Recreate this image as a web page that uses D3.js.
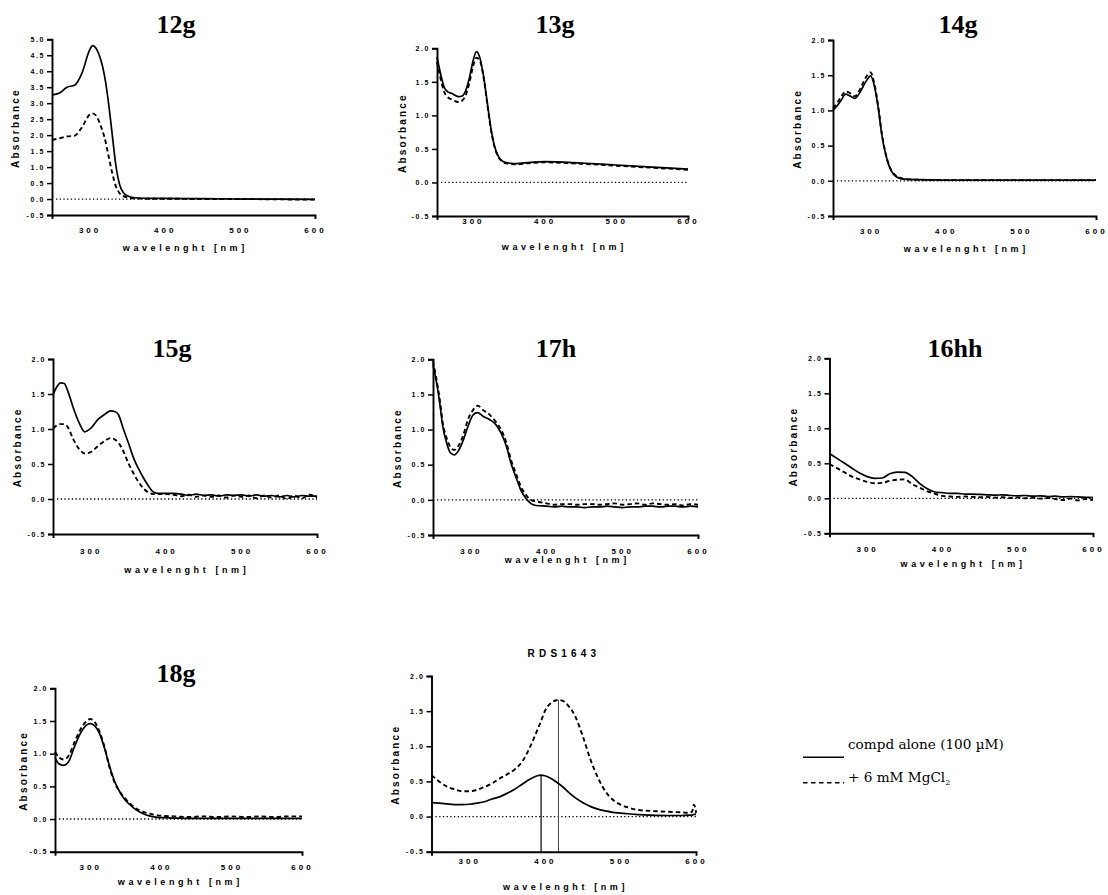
<!DOCTYPE html>
<html>
<head>
<meta charset="utf-8">
<script src="https://cdn.jsdelivr.net/npm/d3@7"></script>
<style>
  body { margin: 0; background: #fff; }
  svg { display: block; }
</style>
</head>
<body>
<div id="container"></div>
<script>
/* DATA */
const xTicks = [300, 400, 500, 600];
const yTicksSmall = [-0.5, 0, 0.5, 1.0, 1.5, 2.0];
const yTicksBig = [-0.5, 0, 0.5, 1.0, 1.5, 2.0, 2.5, 3.0, 3.5, 4.0, 4.5, 5.0];
const seriesNames = ["compd alone (100 \u00B5M)", "+ 6 mM MgCl"];

const wl12g = [250, 260, 270, 280, 290, 300, 304, 310, 315, 320, 325, 330, 335, 340, 345, 350, 360, 380, 400, 450, 500, 550, 600];
const alone12g = [3.26, 3.32, 3.50, 3.56, 3.95, 4.66, 4.80, 4.66, 4.35, 3.85, 3.05, 2.05, 1.05, 0.45, 0.20, 0.10, 0.04, 0.02, 0.02, 0.01, 0.00, 0.00, -0.01];
const mg12g = [1.85, 1.90, 1.96, 1.98, 2.25, 2.64, 2.68, 2.56, 2.28, 1.92, 1.38, 0.83, 0.40, 0.18, 0.09, 0.05, 0.02, 0.01, 0.01, 0.00, 0.00, -0.01, -0.02];

const wl13g = [250, 255, 260, 265, 270, 280, 285, 290, 295, 300, 305, 310, 315, 320, 325, 330, 335, 340, 345, 350, 360, 380, 400, 450, 500, 550, 600];
const alone13g = [1.87, 1.62, 1.42, 1.35, 1.33, 1.28, 1.29, 1.37, 1.55, 1.80, 1.95, 1.85, 1.58, 1.20, 0.82, 0.55, 0.40, 0.33, 0.30, 0.29, 0.28, 0.30, 0.31, 0.29, 0.26, 0.23, 0.20];
const mg13g = [1.80, 1.55, 1.35, 1.27, 1.24, 1.20, 1.22, 1.30, 1.48, 1.72, 1.86, 1.81, 1.56, 1.18, 0.80, 0.54, 0.39, 0.32, 0.29, 0.28, 0.27, 0.29, 0.30, 0.28, 0.25, 0.22, 0.19];

const wl14g = [250, 255, 260, 267, 272, 279, 285, 290, 295, 300, 305, 310, 315, 320, 325, 330, 340, 350, 400, 500, 600];
const alone14g = [1.00, 1.06, 1.13, 1.23, 1.21, 1.17, 1.24, 1.34, 1.43, 1.49, 1.35, 1.05, 0.65, 0.38, 0.20, 0.10, 0.03, 0.02, 0.01, 0.01, 0.01];
const mg14g = [1.03, 1.10, 1.18, 1.27, 1.25, 1.20, 1.28, 1.39, 1.49, 1.54, 1.38, 1.07, 0.67, 0.39, 0.21, 0.11, 0.04, 0.02, 0.01, 0.01, 0.01];

const wl15g = [250, 255, 260, 265, 270, 277, 285, 292, 300, 310, 320, 326, 332, 337, 343, 350, 357, 363, 370, 377, 383, 390,
  400, 410, 420, 430, 440, 450, 460, 470, 480, 490, 500, 510, 520, 530, 540, 550, 560, 570, 580, 590, 600];
const alone15g = [1.49, 1.60, 1.66, 1.65, 1.53, 1.30, 1.08, 0.96, 1.01, 1.14, 1.22, 1.26, 1.25, 1.20, 1.01, 0.80, 0.58, 0.44, 0.30, 0.18, 0.10, 0.08,
  0.08, 0.08, 0.07, 0.05, 0.07, 0.05, 0.06, 0.04, 0.06, 0.05, 0.06, 0.04, 0.06, 0.04, 0.05, 0.03, 0.05, 0.03, 0.05, 0.04, 0.04];
const mg15g = [1.01, 1.05, 1.07, 1.07, 1.02, 0.85, 0.71, 0.65, 0.67, 0.76, 0.84, 0.87, 0.85, 0.80, 0.69, 0.51, 0.36, 0.25, 0.15, 0.09, 0.07, 0.07,
  0.07, 0.06, 0.04, 0.06, 0.03, 0.05, 0.03, 0.05, 0.02, 0.05, 0.03, 0.05, 0.01, 0.05, 0.02, 0.05, 0.00, 0.05, 0.01, 0.06, 0.02];

const wl17h = [250, 254, 259, 263, 268, 273, 278, 283, 290, 296, 303, 309, 316, 325, 333, 340, 347, 353, 360, 366, 373, 379, 386,
  400, 410, 420, 430, 440, 450, 460, 470, 480, 490, 500, 510, 520, 530, 540, 550, 560, 570, 580, 590, 600];
const alone17h = [1.92, 1.71, 1.37, 1.04, 0.81, 0.67, 0.64, 0.69, 0.85, 1.04, 1.21, 1.24, 1.19, 1.14, 1.07, 0.95, 0.76, 0.52, 0.31, 0.14, 0.02, -0.05, -0.08,
  -0.09, -0.10, -0.09, -0.10, -0.10, -0.11, -0.10, -0.10, -0.09, -0.10, -0.11, -0.10, -0.10, -0.09, -0.09, -0.10, -0.09, -0.09, -0.10, -0.09, -0.10];
const mg17h = [1.97, 1.75, 1.42, 1.09, 0.88, 0.75, 0.71, 0.76, 0.92, 1.14, 1.28, 1.34, 1.28, 1.21, 1.11, 1.00, 0.81, 0.57, 0.36, 0.19, 0.07, 0.00, -0.02,
  -0.05, -0.07, -0.06, -0.06, -0.07, -0.06, -0.06, -0.07, -0.06, -0.05, -0.07, -0.06, -0.05, -0.07, -0.05, -0.06, -0.07, -0.06, -0.08, -0.06, -0.07];

const wl16hh = [250, 260, 270, 280, 290, 300, 310, 320, 330, 340, 350, 360, 370, 380, 390, 400, 410, 420,
  430, 440, 450, 460, 470, 480, 490, 500, 510, 520, 530, 540, 550, 560, 570, 580, 590, 600];
const alone16hh = [0.64, 0.57, 0.50, 0.43, 0.36, 0.31, 0.285, 0.29, 0.35, 0.375, 0.37, 0.31, 0.21, 0.135, 0.09, 0.08, 0.07, 0.07,
  0.06, 0.06, 0.055, 0.05, 0.045, 0.05, 0.04, 0.035, 0.04, 0.03, 0.035, 0.025, 0.03, 0.02, 0.025, 0.02, 0.015, 0.01];
const mg16hh = [0.49, 0.43, 0.37, 0.31, 0.27, 0.235, 0.215, 0.22, 0.25, 0.265, 0.27, 0.20, 0.15, 0.10, 0.065, 0.035, 0.025, 0.02,
  0.025, 0.02, 0.015, 0.02, 0.01, 0.015, 0.005, 0.01, 0.0, 0.01, -0.005, 0.005, -0.01, -0.025, -0.005, -0.03, -0.01, -0.025];

const wl18g = [250, 255, 262, 270, 277, 286, 295, 300, 306, 313, 320, 327, 334, 341, 348, 355, 365, 375, 385, 395, 405,
  420, 440, 460, 480, 500, 520, 540, 560, 580, 600];
const alone18g = [0.94, 0.85, 0.82, 0.89, 1.09, 1.31, 1.44, 1.46, 1.43, 1.31, 1.09, 0.82, 0.59, 0.43, 0.31, 0.23, 0.14, 0.08, 0.045, 0.025, 0.02,
  0.015, 0.01, 0.01, 0.01, 0.01, 0.01, 0.01, 0.01, 0.01, 0.01];
const mg18g = [1.03, 0.95, 0.91, 0.98, 1.16, 1.37, 1.50, 1.53, 1.49, 1.34, 1.11, 0.80, 0.57, 0.43, 0.33, 0.25, 0.16, 0.11, 0.08, 0.056, 0.046,
  0.04, 0.03, 0.04, 0.03, 0.04, 0.03, 0.04, 0.03, 0.04, 0.04];

const wlRDS = [250, 260, 270, 280, 290, 300, 310, 320, 330, 340, 350, 360, 370, 380, 390, 395, 400, 410, 418, 425, 430,
  440, 450, 460, 470, 480, 490, 500, 510, 520, 540, 560, 580, 590, 595, 597, 599, 600];
const aloneRDS = [0.20, 0.19, 0.18, 0.17, 0.17, 0.175, 0.19, 0.21, 0.25, 0.28, 0.33, 0.39, 0.46, 0.53, 0.58, 0.59, 0.58, 0.53, 0.47, 0.41, 0.36,
  0.27, 0.20, 0.145, 0.105, 0.08, 0.06, 0.05, 0.04, 0.03, 0.02, 0.015, 0.015, 0.02, 0.02, 0.03, 0.03, 0.03];
const mgRDS = [0.59, 0.50, 0.43, 0.39, 0.36, 0.36, 0.38, 0.42, 0.47, 0.54, 0.60, 0.67, 0.78, 0.98, 1.23, 1.36, 1.50, 1.63, 1.66, 1.64, 1.59,
  1.43, 1.15, 0.82, 0.56, 0.36, 0.24, 0.17, 0.13, 0.10, 0.08, 0.07, 0.06, 0.055, 0.07, 0.17, 0.13, 0.05];
// lambda max markers for RDS1643
const peakWl = [395, 418];
const peakAbs = [0.59, 1.66];

const panels = [
  { name: "12g", wl: wl12g, alone: alone12g, mg: mg12g, yTicks: yTicksBig },
  { name: "13g", wl: wl13g, alone: alone13g, mg: mg13g, yTicks: yTicksSmall },
  { name: "14g", wl: wl14g, alone: alone14g, mg: mg14g, yTicks: yTicksSmall },
  { name: "15g", wl: wl15g, alone: alone15g, mg: mg15g, yTicks: yTicksSmall },
  { name: "17h", wl: wl17h, alone: alone17h, mg: mg17h, yTicks: yTicksSmall },
  { name: "16hh", wl: wl16hh, alone: alone16hh, mg: mg16hh, yTicks: yTicksSmall },
  { name: "18g", wl: wl18g, alone: alone18g, mg: mg18g, yTicks: yTicksSmall },
  { name: "RDS1643", wl: wlRDS, alone: aloneRDS, mg: mgRDS, yTicks: yTicksSmall }
];

/* LAYOUT (pixel boxes of each plot) */
const layout = [
  { x0: 52, x1: 315, top: 39.3, bot: 215, tx: 176, ty: 33, pad: 12.8, xt: 251, yt: 15.3 },
  { x0: 437, x1: 688, top: 48.3, bot: 216, tx: 555, ty: 33, pad: 2.5, xt: 250, yt: 402 },
  { x0: 833, x1: 1096, top: 40, bot: 216, tx: 958, ty: 33, pad: 12.3, xt: 251.7, yt: 797 },
  { x0: 53, x1: 317, top: 359, bot: 534, tx: 172, ty: 356.7, pad: 14.3, xt: 573, yt: 17 },
  { x0: 433, x1: 698, top: 359.3, bot: 535, tx: 556, ty: 356.7, pad: 13.3, xt: 563, yt: 397 },
  { x0: 829.5, x1: 1093, top: 358.3, bot: 533.3, tx: 955, ty: 357, pad: 13.3, xt: 567, yt: 793 },
  { x0: 55, x1: 302, top: 688.3, bot: 851.7, tx: 176, ty: 681.7, pad: 12.6, xt: 885, yt: 23 },
  { x0: 431.5, x1: 696, top: 676, bot: 851.7, tx: 562, ty: 656.7, pad: 6.6, xt: 890, yt: 395.5 }
];

const sans = "'Liberation Sans', Arial, sans-serif";

const svg = d3.select("#container")
  .append("svg")
  .attr("width", 1108)
  .attr("height", 895);

panels.forEach((p, i) => {
  const L = layout[i];
  const yMax = d3.max(p.yTicks);

  const xScale = d3.scaleLinear().domain([250, 600]).range([L.x0, L.x1]);
  const yScale = d3.scaleLinear().domain([-0.5, yMax]).range([L.bot, L.top]);

  const g = svg.append("g");

  // dotted zero line
  g.append("line")
    .attr("x1", xScale(250) + 4).attr("x2", xScale(600))
    .attr("y1", yScale(0)).attr("y2", yScale(0))
    .attr("stroke", "#000")
    .attr("stroke-width", 1.3)
    .attr("stroke-dasharray", "1.3,2.4");

  // vertical markers (only RDS1643)
  if (p.name === "RDS1643") {
    peakWl.forEach((w, k) => {
      g.append("line")
        .attr("x1", xScale(w)).attr("x2", xScale(w))
        .attr("y1", yScale(-0.5)).attr("y2", yScale(peakAbs[k]))
        .attr("stroke", k === 0 ? "#000" : "#444")
        .attr("stroke-width", k === 0 ? 1.2 : 1);
    });
  }

  const line = d3.line()
    .x((d, k) => xScale(p.wl[k]))
    .y(d => yScale(d))
    .curve(d3.curveMonotoneX);

  g.append("path")
    .datum(p.mg)
    .attr("fill", "none")
    .attr("stroke", "#000")
    .attr("stroke-width", 1.9)
    .attr("stroke-dasharray", "4.5,3")
    .attr("d", line);

  g.append("path")
    .datum(p.alone)
    .attr("fill", "none")
    .attr("stroke", "#000")
    .attr("stroke-width", 1.7)
    .attr("d", line);

  // AXES
  const yAxis = d3.axisLeft(yScale)
    .tickValues(p.yTicks)
    .tickFormat(d => d.toFixed(1))
    .tickSize(5)
    .tickPadding(2);

  const xAxis = d3.axisBottom(xScale)
    .tickValues(xTicks)
    .tickSizeInner(0)
    .tickSizeOuter(4)
    .tickPadding(L.pad);

  const yG = g.append("g")
    .attr("transform", `translate(${L.x0},0)`)
    .call(yAxis);
  yG.selectAll("text")
    .style("font", `bold 7px ${sans}`)
    .style("letter-spacing", "1.6px");

  const xG = g.append("g")
    .attr("transform", `translate(0,${L.bot})`)
    .call(xAxis);
  xG.selectAll("text")
    .style("font", `bold 8px ${sans}`)
    .style("letter-spacing", "3px");

  [yG, xG].forEach(a => {
    a.select(".domain").attr("stroke-width", 1.9);
    a.selectAll(".tick line").attr("stroke-width", 1.5);
  });

  // axis titles
  g.append("text")
    .attr("x", (L.x0 + L.x1) / 2 + 1.8)
    .attr("y", L.xt)
    .attr("text-anchor", "middle")
    .style("font", `bold 9px ${sans}`)
    .style("letter-spacing", "3.6px")
    .text("wavelenght [nm]");

  g.append("text")
    .attr("transform", `translate(${L.yt},${(L.top + L.bot) / 2 + 2}) rotate(-90)`)
    .attr("text-anchor", "middle")
    .attr("dominant-baseline", "central")
    .attr("dx", "1.1px")
    .style("font", `bold 10px ${sans}`)
    .style("letter-spacing", "2.2px")
    .text("Absorbance");

  // panel title
  if (p.name === "RDS1643") {
    g.append("text")
      .attr("x", L.tx + 2)
      .attr("y", L.ty)
      .attr("text-anchor", "middle")
      .style("font", `bold 10px ${sans}`)
      .style("letter-spacing", "4.2px")
      .text(p.name);
  } else {
    g.append("text")
      .attr("x", L.tx)
      .attr("y", L.ty)
      .attr("text-anchor", "middle")
      .style("font", "bold 26px 'Liberation Serif', 'Times New Roman', serif")
      .text(p.name);
  }
});

/* LEGEND */
const legend = svg.append("g").attr("transform", "translate(803,0)");
const legendY = [757.3, 782.7];
const legendTextY = [748.5, 781.5];

seriesNames.forEach((name, k) => {
  legend.append("line")
    .attr("x1", 0).attr("x2", 41)
    .attr("y1", legendY[k]).attr("y2", legendY[k])
    .attr("stroke", "#000")
    .attr("stroke-width", k === 0 ? 1.6 : 1.4)
    .attr("stroke-dasharray", k === 0 ? null : "4.5,3.5");

  const t = legend.append("text")
    .attr("x", 45)
    .attr("y", legendTextY[k])
    .style("font", "13.6px 'DejaVu Serif', serif")
    .text(name);
  if (k === 1) {
    t.append("tspan")
      .attr("dy", 3)
      .style("font-size", "8px")
      .text("2");
  }
});
</script>
</body>
</html>
